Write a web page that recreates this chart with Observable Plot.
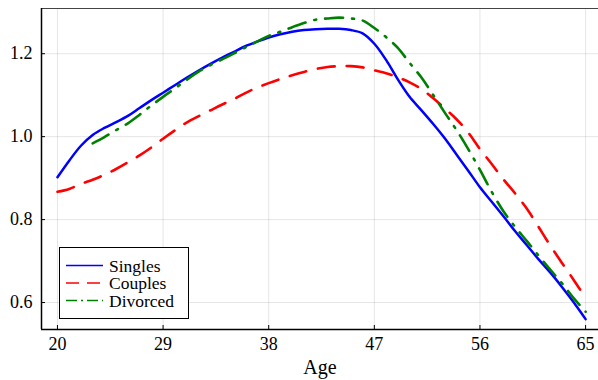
<!DOCTYPE html>
<html><head><meta charset="utf-8">
<script src="https://cdn.jsdelivr.net/npm/d3@7"></script>
<script src="https://cdn.jsdelivr.net/npm/@observablehq/plot@0.6"></script>
<style>
body{margin:0;background:#fff;}
#wrap{position:relative;width:598px;height:380px;font-family:"Liberation Serif",serif;}
#wrap svg.main{position:absolute;left:0;top:0;}
#legend{position:absolute;left:59px;top:247px;}
</style></head><body><div id="wrap"></div>
<script>
const ages = d3.range(20, 66);
const singles = [0.902,0.942,0.978,1.004,1.021,1.035,1.050,1.069,1.088,1.106,1.124,1.142,1.159,1.175,1.190,1.204,1.218,1.229,1.239,1.247,1.253,1.257,1.259,1.260,1.260,1.257,1.249,1.224,1.185,1.138,1.096,1.064,1.031,0.996,0.957,0.918,0.878,0.843,0.808,0.772,0.738,0.704,0.672,0.637,0.600,0.560];
const couples = [0.867,0.874,0.886,0.896,0.908,0.922,0.938,0.955,0.974,0.995,1.015,1.034,1.049,1.063,1.077,1.090,1.105,1.118,1.129,1.139,1.148,1.156,1.163,1.168,1.170,1.170,1.167,1.160,1.153,1.143,1.131,1.115,1.093,1.068,1.042,1.010,0.970,0.934,0.897,0.863,0.826,0.782,0.737,0.695,0.654,0.611];
const divorcedAges = d3.range(23, 66);
const divorced = [0.984,0.999,1.016,1.032,1.053,1.075,1.096,1.116,1.137,1.156,1.172,1.186,1.200,1.215,1.229,1.243,1.253,1.264,1.274,1.282,1.285,1.287,1.285,1.280,1.262,1.240,1.214,1.178,1.143,1.101,1.058,1.016,0.970,0.920,0.867,0.820,0.782,0.748,0.713,0.679,0.646,0.610,0.578];
const seriesNames = ["Singles", "Couples", "Divorced"];
const seriesColors = ["#0000ff", "#ff0000", "#008000"];
const xTicks = [20, 29, 38, 47, 56, 65];
const yTicks = [0.6, 0.8, 1.0, 1.2];
const xDomain = [18.64, 66.1];
const yDomain = [0.535, 1.309];
const xLabel = "Age";

const rowsS = ages.map((a, i) => ({age: a, value: singles[i]}));
const rowsC = ages.map((a, i) => ({age: a, value: couples[i]}));
const rowsD = divorcedAges.map((a, i) => ({age: a, value: divorced[i]}));

const chart = Plot.plot({
  width: 598, height: 380,
  marginLeft: 41, marginRight: 0, marginTop: 8, marginBottom: 51,
  style: {fontFamily: '"Liberation Serif", serif', fontSize: "18px", background: "#fff", overflow: "visible", color: "#000"},
  x: {domain: xDomain},
  y: {domain: yDomain},
  marks: [
    Plot.gridX(xTicks, {stroke: "#000", strokeOpacity: 0.1, strokeWidth: 1}),
    Plot.gridY(yTicks, {stroke: "#000", strokeOpacity: 0.1, strokeWidth: 1}),
    Plot.axisX(xTicks, {tickSize: 0, tickPadding: 8, label: null, fontSize: 18}),
    Plot.axisX(xTicks, {tickSize: 4, dy: -4, text: null, label: null, strokeWidth: 1}),
    Plot.axisY(yTicks, {tickSize: 0, tickPadding: 9, tickFormat: d3.format(".1f"), label: null, fontSize: 18}),
    Plot.axisY(yTicks, {tickSize: 4, dx: 4, text: null, label: null, strokeWidth: 1}),
    Plot.text([xLabel], {frameAnchor: "bottom", lineAnchor: "top", dy: 30, fontSize: 20}),
    Plot.line(rowsS, {x: "age", y: "value", stroke: seriesColors[0], strokeWidth: 2.5, curve: "catmull-rom"}),
    Plot.line(rowsC, {x: "age", y: "value", stroke: seriesColors[1], strokeWidth: 2.6, curve: "catmull-rom", strokeDasharray: "17,12"}),
    Plot.line(rowsD, {x: "age", y: "value", stroke: seriesColors[2], strokeWidth: 2.6, curve: "catmull-rom", strokeDasharray: "18,9,2,9"}),
    Plot.ruleY([yDomain[1]], {stroke: "#444", strokeWidth: 1.2}),
    Plot.ruleY([yDomain[0]], {stroke: "#000", strokeWidth: 1.5}),
    Plot.ruleX([xDomain[0]], {stroke: "#000", strokeWidth: 1.5})
  ]
});
chart.classList.add("main");
document.getElementById("wrap").appendChild(chart);

// Legend
const dashesLegend = [null, "13,8", "11,4,2,4"];
const ns = "http://www.w3.org/2000/svg";
const lg = document.createElementNS(ns, "svg");
lg.setAttribute("id", "legend");
lg.setAttribute("width", 131);
lg.setAttribute("height", 73);
const rect = document.createElementNS(ns, "rect");
rect.setAttribute("x", 0.5); rect.setAttribute("y", 0.5);
rect.setAttribute("width", 129); rect.setAttribute("height", 71);
rect.setAttribute("fill", "#fff"); rect.setAttribute("stroke", "#000"); rect.setAttribute("stroke-width", 1);
lg.appendChild(rect);
seriesNames.forEach((name, i) => {
  const y = 18.5 + i * 17.5;
  const ln = document.createElementNS(ns, "line");
  ln.setAttribute("x1", 7); ln.setAttribute("x2", 44);
  ln.setAttribute("y1", y); ln.setAttribute("y2", y);
  ln.setAttribute("stroke", seriesColors[i]);
  ln.setAttribute("stroke-width", 1.6);
  if (dashesLegend[i]) ln.setAttribute("stroke-dasharray", dashesLegend[i]);
  lg.appendChild(ln);
  const t = document.createElementNS(ns, "text");
  t.setAttribute("x", 50); t.setAttribute("y", y + 6);
  t.setAttribute("font-family", '"Liberation Serif", serif');
  t.setAttribute("font-size", 17.5);
  t.textContent = name;
  lg.appendChild(t);
});
document.getElementById("wrap").appendChild(lg);
</script>
</body></html>
